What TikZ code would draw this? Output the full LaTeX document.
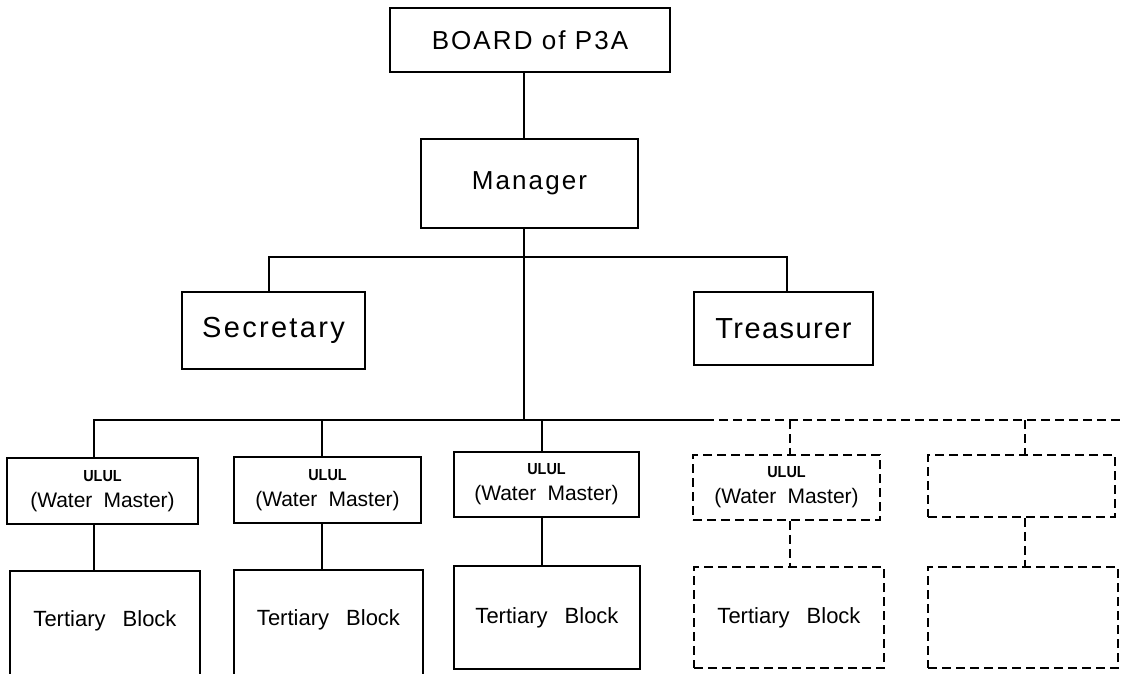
\documentclass[tikz,border=0pt]{standalone}
\usepackage{fontspec}
\setmainfont{Liberation Sans}
\newcommand\ululmark{{\bfseries\fontsize{16}{20}\selectfont\scalebox{0.9}[1]{ULUL}}}
\newcommand\wmtext{(Water\hspace{0.25em} Master)}
\begin{document}
\begin{tikzpicture}[x=1pt,y=-1pt,
  box/.style={draw, line width=1.8pt, inner sep=0pt, align=center},
  dbox/.style={box, dash pattern=on 9pt off 5pt},
  wire/.style={line width=1.8pt},
  dwire/.style={line width=1.8pt, dash pattern=on 9pt off 5pt},
  bigA/.style={font=\fontsize{26}{30}\selectfont\addfontfeature{LetterSpace=8}},
  bigB/.style={font=\fontsize{29}{34}\selectfont\addfontfeature{LetterSpace=8}},
  bigC/.style={font=\fontsize{29}{34}\selectfont\addfontfeature{LetterSpace=5}},
  wm/.style={font=\fontsize{21}{26}\selectfont},
  tert/.style={font=\fontsize{22}{26}\selectfont, inner sep=0pt}]
\useasboundingbox (0,0) rectangle (1125,673);
\clip (0,0) rectangle (1125,673);

% top nodes
\node[box, bigA, minimum width=280pt, minimum height=64pt] (board) at (530,40) {BOARD of P3A};
\node[box, bigA, minimum width=217pt, minimum height=89pt] (mgr) at (529.5,183.5) {Manager};
\node[box, bigB, minimum width=183pt, minimum height=77pt] (sec) at (273.5,330.5) {Secretary};
\node[box, bigC, minimum width=179pt, minimum height=73pt] (tre) at (783.5,328.5) {Treasurer};

% ULUL row
\node[box, wm, minimum width=191pt, minimum height=66pt] (u1) at (102.5,491) {\ululmark\\ \wmtext};
\node[box, wm, minimum width=187pt, minimum height=66pt] (u2) at (327.5,490) {\ululmark\\ \wmtext};
\node[box, wm, minimum width=185pt, minimum height=65pt] (u3) at (546.5,484.5) {\ululmark\\ \wmtext};
\node[dbox, wm, minimum width=187pt, minimum height=65pt] (u4) at (786.5,487.5) {\ululmark\\ \wmtext};
\node[dbox, minimum width=187pt, minimum height=62pt] (u5) at (1021.5,486) {};

% tertiary row
\node[box, minimum width=190pt, minimum height=129pt,
  label={[tert, yshift=15pt]center:Tertiary\hspace{0.5em} Block}] (t1) at (105,635.5) {};
\node[box, minimum width=189pt, minimum height=129pt,
  label={[tert, yshift=14.5pt]center:Tertiary\hspace{0.5em} Block}] (t2) at (328.5,634.5) {};
\node[box, tert, minimum width=186pt, minimum height=103pt] (t3) at (547,617.5) {Tertiary\hspace{0.5em} Block};
\node[dbox, tert, minimum width=190pt, minimum height=101pt] (t4) at (789,617.5) {Tertiary\hspace{0.5em} Block};
\node[dbox, minimum width=190pt, minimum height=101pt] (t5) at (1023,617.5) {};

% coordinates of the connector lines
\coordinate (sp) at (524,0);
\coordinate (bar2) at (524,420);
\coordinate (cs) at (269,257);
\coordinate (ct) at (787,257);
\coordinate (c1) at (94,420);
\coordinate (c2) at (322,420);
\coordinate (c3) at (542,420);
\coordinate (cm) at (705,420);
\coordinate (c4) at (790,420);
\coordinate (c5) at (1025,420);
\coordinate (cend) at (1125,420);

% connectors
\draw[wire] (board.south -| sp) -- (mgr.north -| sp);
\draw[wire] (mgr.south -| sp) -- (bar2);
\draw[wire] (sec.north -| cs) -- (cs) -- (ct) -- (tre.north -| ct);
\draw[wire] (u1.north -| c1) -- (c1) -- (cm);
\draw[wire] (c2) -- (u2.north -| c2);
\draw[wire] (c3) -- (u3.north -| c3);
\draw[dwire] (cm) -- (cend);
\draw[dwire] (c4) -- (u4.north -| c4);
\draw[dwire] (c5) -- (u5.north -| c5);

\draw[wire] (u1.south -| c1) -- (t1.north -| c1);
\draw[wire] (u2.south -| c2) -- (t2.north -| c2);
\draw[wire] (u3.south -| c3) -- (t3.north -| c3);
\draw[dwire] (u4.south -| c4) -- (t4.north -| c4);
\draw[dwire] (u5.south -| c5) -- (t5.north -| c5);
\end{tikzpicture}
\end{document}
